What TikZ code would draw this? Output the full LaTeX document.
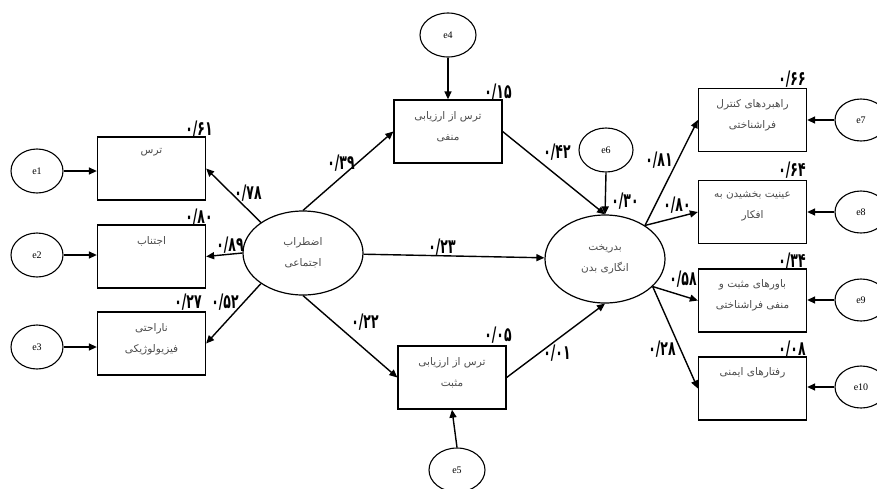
\documentclass[tikz,border=0pt]{standalone}
\usepackage{fontspec}
\setmainfont{Liberation Serif}
\newfontfamily\fa[Script=Arabic]{DejaVu Sans}
\newfontfamily\numfnt[Script=Arabic,FakeStretch=0.62]{DejaVu Sans}
\TeXXeTstate=1
\usetikzlibrary{arrows.meta,shapes.geometric}
\tikzset{
  box/.style={draw, line width=1.3pt, minimum width=108pt, minimum height=63pt, inner sep=0pt},
  lat/.style={draw, ellipse, line width=1.2pt, minimum width=120pt, minimum height=84pt, inner sep=0pt,
    align=center, font=\fa\fontsize{10.5}{21}\selectfont, text=black!70},
  err/.style={draw, ellipse, line width=1.1pt, minimum width=52pt, minimum height=44pt, inner sep=0pt,
    font=\fontsize{10}{10}\selectfont},
  lab/.style={font=\numfnt\bfseries\fontsize{20}{20}\selectfont, inner sep=0pt},
  btxt/.style={font=\fa\fontsize{10.5}{21}\selectfont, text=black!70, align=center, anchor=north, inner sep=0pt},
  arr/.style={-{Triangle[length=8pt,width=7pt]}, line width=1.4pt}
}
\begin{document}
\begin{tikzpicture}[x=1pt,y=-1pt]
\useasboundingbox[fill=white] (0,0) rectangle (877,488);
% left boxes
\node[box] (b1) at (151.5,168.5) {};
\node[box] (b2) at (151.5,256.5) {};
\node[box] (b3) at (151.5,343.5) {};
\node[btxt] (b1t) at ([yshift=-12pt]b1.north) {\beginR ترس\endR};
\node[btxt] (b2t) at ([yshift=-12pt]b2.north) {\beginR اجتناب\endR};
\node[btxt] (b3t) at ([yshift=-12pt]b3.north) {\beginR ناراحتی\endR\\\beginR فیزیولوژیکی\endR};
% middle boxes
\node[box] (bn) at (448,131.5) {};
\node[box] (bp) at (452,377.5) {};
\node[btxt] (bnt) at ([yshift=-12pt]bn.north) {\beginR ترس از ارزیابی\endR\\\beginR منفی\endR};
\node[btxt] (bpt) at ([yshift=-12pt]bp.north) {\beginR ترس از ارزیابی\endR\\\beginR مثبت\endR};
% right boxes
\node[box] (r1) at (752.5,120) {};
\node[box] (r2) at (752.5,212) {};
\node[box] (r3) at (752.5,300.5) {};
\node[box] (r4) at (752.5,388.5) {};
\node[btxt] (r1t) at ([yshift=-11pt]r1.north) {\beginR راهبردهای کنترل\endR\\\beginR فراشناختی\endR};
\node[btxt] (r2t) at ([yshift=-11pt]r2.north) {\beginR عینیت بخشیدن به\endR\\\beginR افکار\endR};
\node[btxt] (r3t) at ([yshift=-11pt]r3.north) {\beginR باورهای مثبت و\endR\\\beginR منفی فراشناختی\endR};
\node[btxt] (r4t) at ([yshift=-11pt]r4.north) {\beginR رفتارهای ایمنی\endR};
% latent ellipses
\node[lat] (sa) at (303,253) {\beginR اضطراب\endR\\\beginR اجتماعی\endR};
\node[lat, minimum height=88pt] (bd) at (605,259) {\beginR بدریخت\endR\\\beginR انگاری بدن\endR};
% error ellipses
\node[err] (e1) at (37,171) {e1};
\node[err] (e2) at (37,255) {e2};
\node[err] (e3) at (37,347) {e3};
\node[err, minimum width=56pt] (e4) at (448,35) {e4};
\node[err, minimum width=56pt] (e5) at (457,470) {e5};
\node[err, minimum width=54pt] (e6) at (606,150) {e6};
\node[err, minimum height=42pt] (e7) at (861,120) {e7};
\node[err, minimum height=42pt] (e8) at (861,212) {e8};
\node[err, minimum height=42pt] (e9) at (861,300) {e9};
\node[err, minimum height=42pt] (e10) at (861,387) {e10};
% connectors
\draw[arr] (e1.east) -- (e1.east -| b1.west);
\draw[arr] (e2.east) -- (e2.east -| b2.west);
\draw[arr] (e3.east) -- (e3.east -| b3.west);
\draw[arr] (sa.144) -- (b1.east);
\draw[arr] (sa.west) -- (b2.east);
\draw[arr] (sa.216) -- (b3.east);
\draw[arr] (sa.north) -- (bn.west);
\draw[arr] (sa.south) -- (bp.west);
\draw[arr] (sa) -- (bd);
\draw[arr] (e4.south) -- (bn.north);
\draw[arr] (e5.north) -- (bp.south);
\draw[arr] (bn.east) -- (bd.north);
\draw[arr] (e6.south) -- (bd.north);
\draw[arr] (bp.east) -- (bd.south);
\draw[arr] (bd.40) -- (r1.west);
\draw[arr] (bd.40) -- (r2.west);
\draw[arr] (bd.-30) -- (r3.west);
\draw[arr] (bd.-30) -- (r4.west);
\draw[arr] (e7.west) -- (e7.west -| r1.east);
\draw[arr] (e8.west) -- (e8.west -| r2.east);
\draw[arr] (e9.west) -- (e9.west -| r3.east);
\draw[arr] (e10.west) -- (e10.west -| r4.east);
% coefficient labels
\node[lab] (l1) at (199,129) {۰/۶۱};
\node[lab] (l2) at (199,217) {۰/۸۰};
\node[lab] (l3) at (188,302) {۰/۲۷};
\node[lab] (l4) at (225,302) {۰/۵۲};
\node[lab] (l5) at (248,193) {۰/۷۸};
\node[lab] (l6) at (230,245) {۰/۸۹};
\node[lab] (l7) at (341,163) {۰/۳۹};
\node[lab] (l8) at (498,92) {۰/۱۵};
\node[lab] (l9) at (442,247) {۰/۲۳};
\node[lab] (l10) at (365,322) {۰/۲۲};
\node[lab] (l11) at (498,335) {۰/۰۵};
\node[lab] (l12) at (557,353) {۰/۰۱};
\node[lab] (l13) at (557,152) {۰/۴۲};
\node[lab] (l14) at (625,201) {۰/۳۰};
\node[lab] (l15) at (659,160) {۰/۸۱};
\node[lab] (l16) at (677,205) {۰/۸۰};
\node[lab] (l17) at (683,279) {۰/۵۸};
\node[lab] (l18) at (662,349) {۰/۲۸};
\node[lab] (l19) at (792,79) {۰/۶۶};
\node[lab] (l20) at (792,170) {۰/۶۴};
\node[lab] (l21) at (792,261) {۰/۳۴};
\node[lab] (l22) at (792,349) {۰/۰۸};
\end{tikzpicture}
\end{document}
